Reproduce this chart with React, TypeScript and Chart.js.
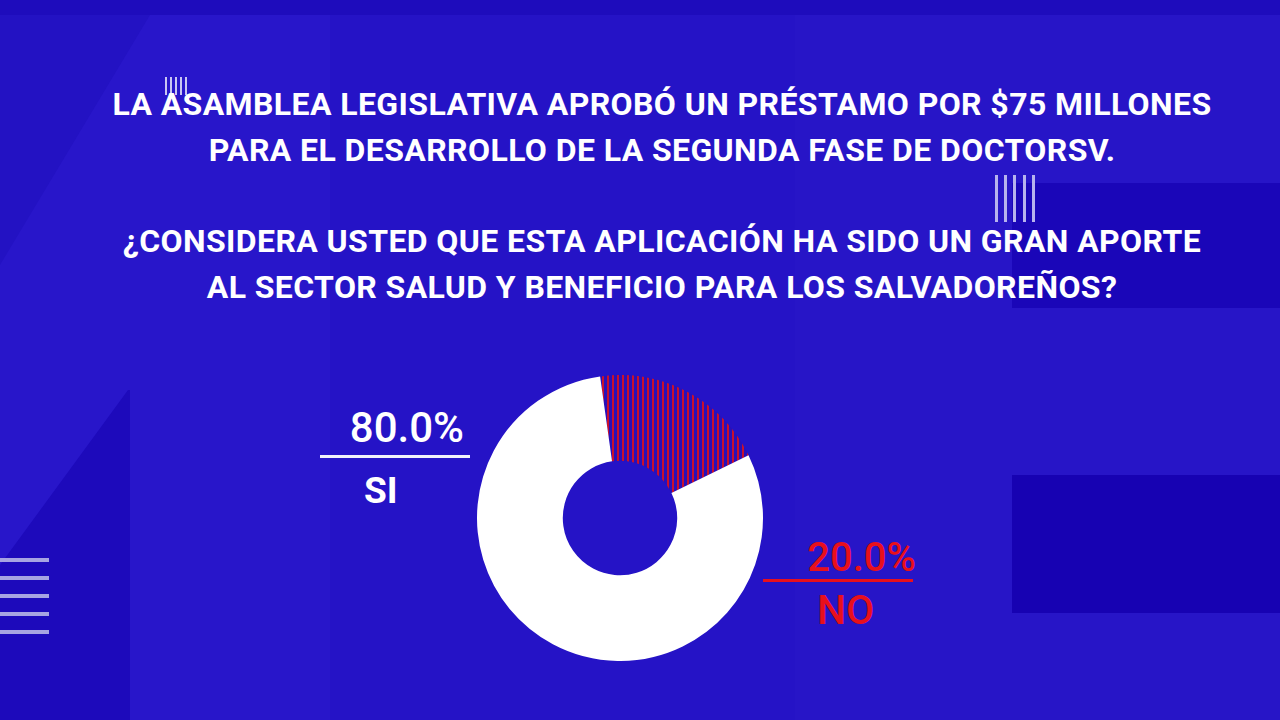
import React, { useEffect, useRef } from "react";
import { Chart, registerables } from "chart.js";

Chart.register(...registerables);

const titleLines1 = [
  "LA ASAMBLEA LEGISLATIVA APROBÓ UN PRÉSTAMO POR $75 MILLONES",
  "PARA EL DESARROLLO DE LA SEGUNDA FASE DE DOCTORSV.",
];
const titleLines2 = [
  "¿CONSIDERA USTED QUE ESTA APLICACIÓN HA SIDO UN GRAN APORTE",
  "AL SECTOR SALUD Y BENEFICIO PARA LOS SALVADOREÑOS?",
];
const categories = ["NO", "SI"];
const values = [20, 80];
const valueLabels = ["20.0%", "80.0%"];

const BG = "#2312c3";
const RED = "#e8101c";

function makeHatch(): CanvasPattern | string {
  const c = document.createElement("canvas");
  c.width = 5;
  c.height = 5;
  const g = c.getContext("2d");
  if (!g) return RED;
  g.fillStyle = "#2a10b8";
  g.fillRect(0, 0, 5, 5);
  g.fillStyle = "#c8102e";
  g.fillRect(0, 0, 2, 5);
  const p = g.createPattern(c, "repeat");
  return p || RED;
}

function Doughnut() {
  const ref = useRef<HTMLCanvasElement | null>(null);
  useEffect(() => {
    if (!ref.current) return;
    const chart = new Chart(ref.current, {
      type: "doughnut",
      data: {
        labels: categories,
        datasets: [
          {
            data: values,
            backgroundColor: [makeHatch(), "#ffffff"],
            borderWidth: 0,
          },
        ],
      },
      options: {
        responsive: false,
        animation: false,
        rotation: -8,
        cutout: "40%",
        layout: { padding: 0 },
        plugins: {
          legend: { display: false },
          tooltip: { enabled: false },
        },
      },
    });
    return () => chart.destroy();
  }, []);
  return <canvas ref={ref} width={286} height={286} />;
}

const abs = (s: React.CSSProperties): React.CSSProperties => ({ position: "absolute", ...s });

export default function App() {
  const titleStyle: React.CSSProperties = {
    fontFamily: "Roboto, 'Noto Sans', sans-serif",
    fontWeight: 700,
    fontSize: 32,
    letterSpacing: "0.4px",
    lineHeight: "46px",
    color: "#ffffff",
    textAlign: "center",
    left: 0,
    width: 1324,
    whiteSpace: "nowrap",
  };
  const hBars = [560, 578, 596, 614, 632];
  const vBars1 = [165, 170, 175, 180, 185];
  const vBars2 = [995, 1004, 1013, 1023, 1032];
  return (
    <div style={abs({ left: 0, top: 0, width: 1280, height: 720, background: BG, overflow: "hidden" })}>
      {/* background panels */}
      <div style={abs({ left: 0, top: 0, width: 1280, height: 15, background: "#1e0cbc" })} />
      <div
        style={abs({
          left: 0,
          top: 15,
          width: 330,
          height: 705,
          background: "#2816ca",
          clipPath: "polygon(150px 0, 330px 0, 330px 705px, 0 705px, 0 250px)",
        })}
      />
      <div
        style={abs({
          left: 0,
          top: 375,
          width: 130,
          height: 345,
          background: "#1d0abb",
          clipPath: "polygon(128px 15px, 130px 15px, 130px 345px, 0 345px, 0 190px)",
        })}
      />
      <div style={abs({ left: 330, top: 15, width: 465, height: 705, background: "#2513c6" })} />
      <div style={abs({ left: 795, top: 15, width: 485, height: 705, background: "#2715c7" })} />
      <div style={abs({ left: 1012, top: 183, width: 268, height: 125, background: "#1a06b8" })} />
      <div style={abs({ left: 1012, top: 475, width: 268, height: 138, background: "#1702b2" })} />

      {/* decorative bars */}
      {hBars.map((y) => (
        <div key={"h" + y} style={abs({ left: 0, top: y - 2, width: 49, height: 4, background: "#a7a4e2" })} />
      ))}
      {vBars1.map((x) => (
        <div key={"v1" + x} style={abs({ left: x, top: 77, width: 1.5, height: 18, background: "#c9c6f2" })} />
      ))}
      {vBars2.map((x) => (
        <div key={"v2" + x} style={abs({ left: x, top: 175, width: 2.5, height: 47, background: "#b7b3ee" })} />
      ))}

      {/* title */}
      <div style={abs({ ...titleStyle, top: 81 })}>
        {titleLines1.map((t) => (
          <div key={t}>{t}</div>
        ))}
      </div>
      <div style={abs({ ...titleStyle, top: 218 })}>
        {titleLines2.map((t) => (
          <div key={t}>{t}</div>
        ))}
      </div>

      {/* doughnut */}
      <div style={abs({ left: 477, top: 375, width: 286, height: 286 })}>
        <Doughnut />
      </div>

      {/* SI label */}
      <div
        style={abs({
          left: 318,
          top: 404,
          width: 146,
          textAlign: "right",
          fontFamily: "Roboto, sans-serif",
          fontWeight: 500,
          fontSize: 42,
          lineHeight: "48px",
          color: "#ffffff",
        })}
      >
        {valueLabels[1]}
      </div>
      <div style={abs({ left: 320, top: 455, width: 150, height: 3, background: "#f2f2fb" })} />
      <div
        style={abs({
          left: 364,
          top: 467,
          fontFamily: "Roboto, sans-serif",
          fontWeight: 700,
          fontSize: 37,
          lineHeight: "48px",
          color: "#ffffff",
        })}
      >
        {categories[1]}
      </div>

      {/* NO label */}
      <div
        style={abs({
          left: 768,
          top: 534,
          width: 148,
          textAlign: "right",
          fontFamily: "Roboto, sans-serif",
          fontWeight: 500,
          fontSize: 40,
          lineHeight: "48px",
          color: RED,
        })}
      >
        {valueLabels[0]}
      </div>
      <div style={abs({ left: 763, top: 579, width: 150, height: 3, background: RED })} />
      <div
        style={abs({
          left: 817,
          top: 586,
          fontFamily: "Roboto, sans-serif",
          fontWeight: 500,
          fontSize: 41,
          lineHeight: "48px",
          color: RED,
        })}
      >
        {categories[0]}
      </div>
    </div>
  );
}
